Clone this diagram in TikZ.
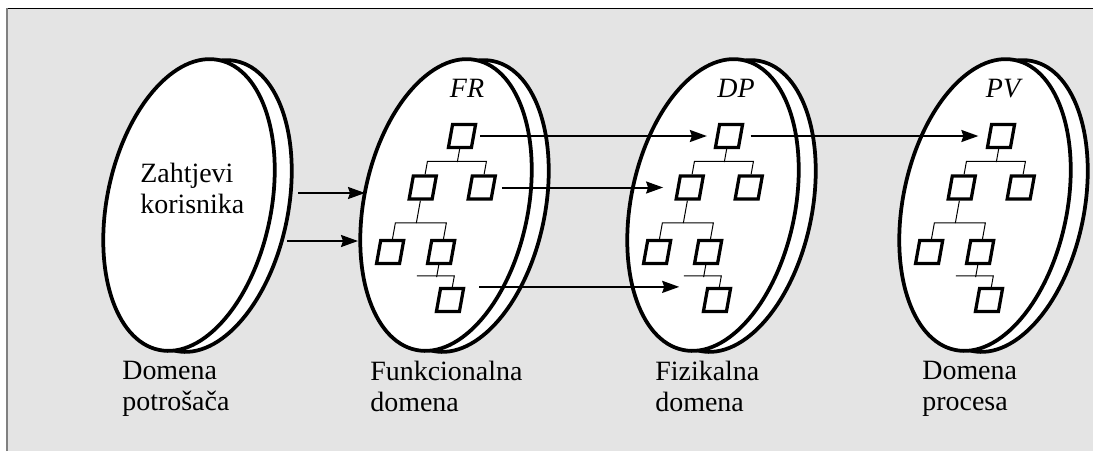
\documentclass[tikz,border=0pt]{standalone}
\usepackage{fontspec}
\setmainfont{Liberation Serif}
\usetikzlibrary{shapes.geometric,arrows.meta}
\definecolor{panel}{RGB}{228,228,228}
\definecolor{rule}{RGB}{128,128,128}

\begin{document}
\begin{tikzpicture}
\tikzset{
    disk/.style= {ellipse, draw=black, fill=white, line width=0.075cm, minimum width=3.28cm, minimum height=5.92cm, inner sep=0pt, rotate=-11.7},
    tbox/.style= {rectangle, draw=black, fill=white, line width=0.065cm, minimum size=0.46cm, inner sep=0pt, transform shape},
    tline/.style= {line width=0.02cm},
    flow/.style= {-{Stealth[length=0.34cm,width=0.24cm,inset=0.04cm]}, line width=0.04cm},
    dlabel/.style= {anchor=north west, align=left, inner sep=0pt, font=\fontsize{15.9}{17.5}\selectfont},
    tlabel/.style= {anchor=base, inner sep=0pt, font=\fontsize{15.9}{17.5}\selectfont\itshape},
}

\useasboundingbox (0,0) rectangle (21.86,9.02);
\fill[panel] (0.14,0) rectangle (21.86,8.86);
\draw[line width=0.02cm] (0.14,8.86) -- (21.86,8.86);
\draw[rule, line width=0.04cm] (0.14,0) -- (0.14,8.86);

% disks, back rim first
\foreach \n/\x in {cd/3.78, fr/8.92, dp/14.26, pv/19.7} {
  \node[disk] (\n-back) at (\x+0.34,4.9) {};
  \node[disk] (\n-disk) at (\x,4.92) {};
}

% trees of the three domains
\foreach \n/\x in {fr/9.24, dp/14.58, pv/20.02} {
  \begin{scope}[shift={(\x,6.3)}, xslant=0.18]
    \node[tbox] (\n-r) at (0,0) {};
    \node[tbox] (\n-a) at (-0.6,-1.03) {};
    \node[tbox] (\n-b) at (0.58,-1.03) {};
    \node[tbox] (\n-c) at (-1.02,-2.32) {};
    \node[tbox] (\n-d) at (0,-2.32) {};
    \node[tbox] (\n-e) at (0.35,-3.28) {};
    \draw[tline] (\n-r.south) -- ++(0,-0.26);
    \draw[tline] (\n-a.north) -- ++(0,0.26) -- ++(1.18,0) -- (\n-b.north);
    \draw[tline] (\n-a.south) -- ++(0,-0.45);
    \draw[tline] (\n-c.north) -- ++(0,0.32) -- ++(1.02,0) -- (\n-d.north);
    \draw[tline] (\n-d.south) -- ++(0,-0.24);
    \draw[tline] (\n-e.north) -- ++(0,0.22) -- ++(-0.75,0);
  \end{scope}
}

\node[dlabel] (zk) at (2.8,5.76) {Zahtjevi\\korisnika};
\node[tlabel] (tfr) at (9.34,7.08) {FR};
\node[tlabel] (tdp) at (14.72,7.08) {DP};
\node[tlabel] (tpv) at (20.06,7.08) {PV};

\node[dlabel] (l1) at (2.44,1.8) {Domena\\potrošača};
\node[dlabel] (l2) at (7.4,1.8) {Funkcionalna\\domena};
\node[dlabel] (l3) at (13.1,1.8) {Fizikalna\\domena};
\node[dlabel] (l4) at (18.44,1.8) {Domena\\procesa};

\coordinate (k1a) at (5.96,5.16);
\coordinate (k1b) at (7.3,5.16);
\coordinate (k2a) at (5.74,4.2);
\coordinate (k2b) at (7.16,4.2);

\draw[flow] (k1a) -- (k1b);
\draw[flow] (k2a) -- (k2b);
\draw[flow, shorten <=0.1cm, shorten >=0.18cm] (fr-r.east) -- (dp-r.west);
\draw[flow, shorten <=0.14cm, shorten >=0.27cm] (fr-b.east) -- (dp-a.west);
\draw[flow] ([xshift=0.28cm]fr-e.north east) -- ([xshift=-0.54cm]dp-e.north west);
\draw[flow, shorten <=0.17cm, shorten >=0.19cm] (dp-r.east) -- (pv-r.west);
\end{tikzpicture}
\end{document}
